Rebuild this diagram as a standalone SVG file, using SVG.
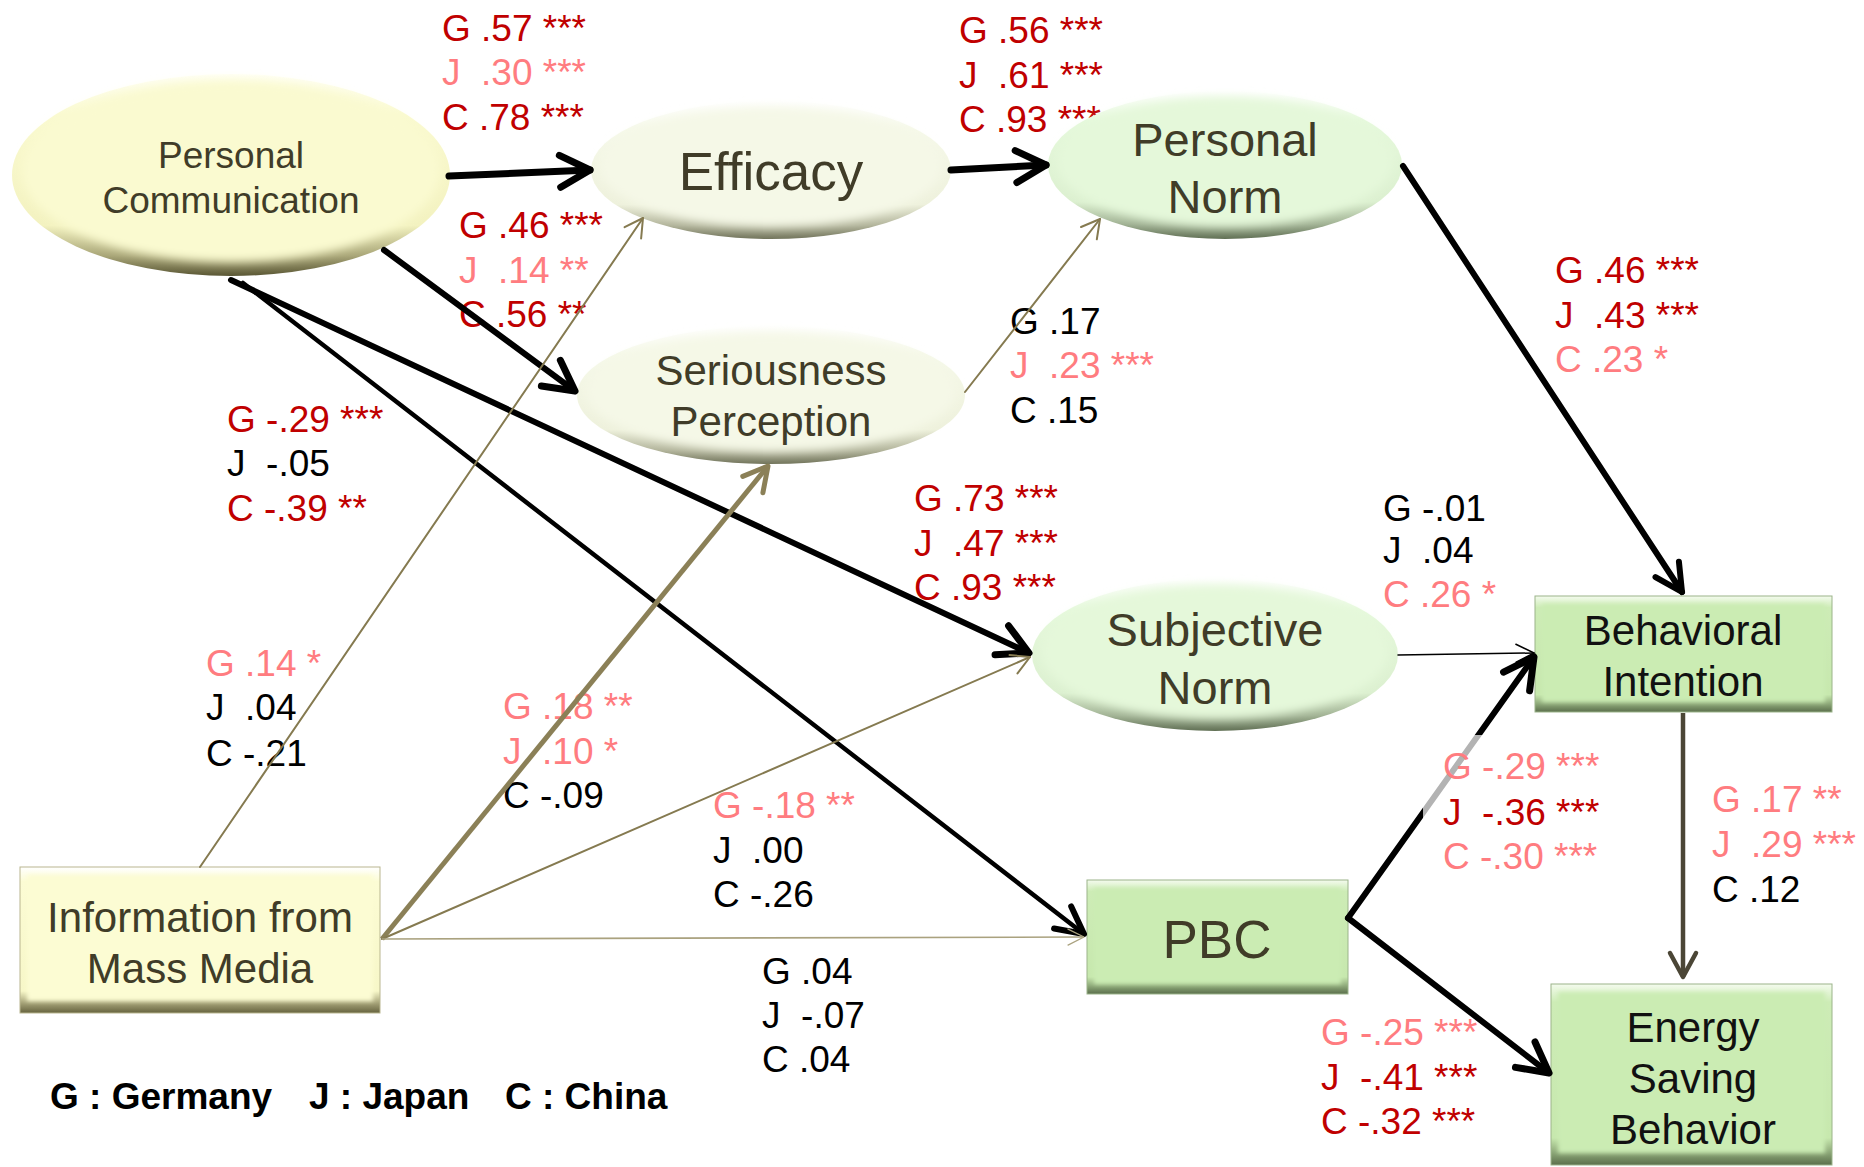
<svg xmlns="http://www.w3.org/2000/svg" width="1864" height="1167" viewBox="0 0 1864 1167">
<style>
.nt{font-family:"Liberation Sans",Arial,sans-serif;fill:#403c28;text-anchor:middle}
.nb{font-family:"Liberation Sans",Arial,sans-serif;fill:#111;text-anchor:middle}
.lb{font-family:"Liberation Sans",Arial,sans-serif;font-size:37px}
.r{fill:#c00000}.p{fill:#ff7c80}.k{fill:#000}
.lg{font-family:"Liberation Sans",Arial,sans-serif;font-size:37px;font-weight:bold;fill:#000}
.ck{fill:none;stroke:#000;stroke-linecap:round;stroke-linejoin:round}
.co{fill:none;stroke:#857a50;stroke-linecap:round;stroke-linejoin:round}
.cok{fill:none;stroke:#8b8057;stroke-linejoin:round}
.cd{fill:none;stroke:#4b4636;stroke-linejoin:round}
.cl{fill:none;stroke:#aaa27f;stroke-linejoin:round}
</style>
<defs>
<linearGradient id="gY" x1="0" y1="0" x2="0" y2="1"><stop offset="0" stop-color="#fffff6"/><stop offset="0.2" stop-color="#fafad0"/><stop offset="0.75" stop-color="#f3f2c0"/><stop offset="0.9" stop-color="#a9a678"/><stop offset="1" stop-color="#5a5735"/></linearGradient>
<linearGradient id="gE" x1="0" y1="0" x2="0" y2="1"><stop offset="0" stop-color="#ffffff"/><stop offset="0.2" stop-color="#f6f9ea"/><stop offset="0.75" stop-color="#eef1dc"/><stop offset="0.9" stop-color="#b3b59c"/><stop offset="1" stop-color="#72755c"/></linearGradient>
<linearGradient id="gG" x1="0" y1="0" x2="0" y2="1"><stop offset="0" stop-color="#ffffff"/><stop offset="0.2" stop-color="#e6f9dc"/><stop offset="0.75" stop-color="#dcf0d0"/><stop offset="0.9" stop-color="#a1b294"/><stop offset="1" stop-color="#617055"/></linearGradient>
<linearGradient id="gR" x1="0" y1="0" x2="0" y2="1"><stop offset="0" stop-color="#f4fbee"/><stop offset="0.1" stop-color="#cdecb6"/><stop offset="0.85" stop-color="#c7e8ae"/><stop offset="0.94" stop-color="#86a072"/><stop offset="1" stop-color="#5b6f4c"/></linearGradient>
<linearGradient id="gRY" x1="0" y1="0" x2="0" y2="1"><stop offset="0" stop-color="#ffffff"/><stop offset="0.1" stop-color="#fcfcd4"/><stop offset="0.85" stop-color="#f7f7c8"/><stop offset="0.94" stop-color="#9d9a70"/><stop offset="1" stop-color="#66633f"/></linearGradient>
<filter id="bl" x="-10%" y="-10%" width="120%" height="120%"><feGaussianBlur stdDeviation="5"/></filter>
<filter id="bs" x="-5%" y="-5%" width="110%" height="110%"><feGaussianBlur stdDeviation="2"/></filter>
<marker id="mK" markerUnits="userSpaceOnUse" viewBox="-40 -25 50 50" markerWidth="50" markerHeight="50" refX="0" refY="0" orient="auto"><path d="M-30,-16 L0,0 L-30,16" class="ck" stroke-width="7"/></marker>
<marker id="mM" markerUnits="userSpaceOnUse" viewBox="-40 -25 50 50" markerWidth="50" markerHeight="50" refX="0" refY="0" orient="auto"><path d="M-27,-14 L0,0 L-27,14" class="ck" stroke-width="6"/></marker>
<marker id="mT" markerUnits="userSpaceOnUse" viewBox="-40 -25 50 50" markerWidth="50" markerHeight="50" refX="0" refY="0" orient="auto"><path d="M-18,-9 L0,0 L-18,9" class="ck" stroke-width="1.5"/></marker>
<marker id="mO" markerUnits="userSpaceOnUse" viewBox="-40 -25 50 50" markerWidth="50" markerHeight="50" refX="0" refY="0" orient="auto"><path d="M-18,-10 L0,0 L-18,10" class="co" stroke-width="2"/></marker>
<marker id="mOK" markerUnits="userSpaceOnUse" viewBox="-40 -25 50 50" markerWidth="50" markerHeight="50" refX="0" refY="0" orient="auto"><path d="M-24,-13 L0,0 L-24,13" class="cok" stroke-linecap="round" stroke-width="5"/></marker>
<marker id="mD" markerUnits="userSpaceOnUse" viewBox="-40 -25 50 50" markerWidth="50" markerHeight="50" refX="0" refY="0" orient="auto"><path d="M-24,-13 L0,0 L-24,13" class="cd" stroke-linecap="round" stroke-width="4.5"/></marker>
<marker id="mL" markerUnits="userSpaceOnUse" viewBox="-40 -25 50 50" markerWidth="50" markerHeight="50" refX="0" refY="0" orient="auto"><path d="M-16,-8 L0,0 L-16,8" class="cl" stroke-linecap="round" stroke-width="1.3"/></marker>
</defs>
<rect width="1864" height="1167" fill="#fff"/>

<g id="labels">
<g id="lbl-pc-eff" class="lb"><text x="442" y="41" class="r">G .57 ***</text><text x="442" y="85" class="p">J&#160;&#160;.30 ***</text><text x="442" y="130" class="r">C .78 ***</text></g>
<g id="lbl-eff-pn" class="lb"><text x="959" y="43" class="r">G .56 ***</text><text x="959" y="88" class="r">J&#160;&#160;.61 ***</text><text x="959" y="132" class="r">C .93 ***</text></g>
<g id="lbl-pc-ser" class="lb"><text x="459" y="238" class="r">G .46 ***</text><text x="459" y="283" class="p">J&#160;&#160;.14 **</text><text x="459" y="327" class="r">C .56 **</text></g>
<g id="lbl-ser-pn" class="lb"><text x="1010" y="334" class="k">G .17</text><text x="1010" y="378" class="p">J&#160;&#160;.23 ***</text><text x="1010" y="423" class="k">C .15</text></g>
<g id="lbl-pn-bi" class="lb"><text x="1555" y="283" class="r">G .46 ***</text><text x="1555" y="328" class="r">J&#160;&#160;.43 ***</text><text x="1555" y="372" class="p">C .23 *</text></g>
<g id="lbl-pc-pbc" class="lb"><text x="227" y="432" class="r">G -.29 ***</text><text x="227" y="476" class="k">J&#160;&#160;-.05</text><text x="227" y="521" class="r">C -.39 **</text></g>
<g id="lbl-pc-sn" class="lb"><text x="914" y="511" class="r">G .73 ***</text><text x="914" y="556" class="r">J&#160;&#160;.47 ***</text><text x="914" y="600" class="r">C .93 ***</text></g>
<g id="lbl-sn-bi" class="lb"><text x="1383" y="521" class="k">G -.01</text><text x="1383" y="563" class="k">J&#160;&#160;.04</text><text x="1383" y="607" class="p">C .26 *</text></g>
<g id="lbl-mm-eff" class="lb"><text x="206" y="676" class="p">G .14 *</text><text x="206" y="720" class="k">J&#160;&#160;.04</text><text x="206" y="766" class="k">C -.21</text></g>
<g id="lbl-mm-ser" class="lb"><text x="503" y="719" class="p">G .18 **</text><text x="503" y="764" class="p">J&#160;&#160;.10 *</text><text x="503" y="808" class="k">C -.09</text></g>
<g id="lbl-mm-sn" class="lb"><text x="713" y="818" class="p">G -.18 **</text><text x="713" y="863" class="k">J&#160;&#160;.00</text><text x="713" y="907" class="k">C -.26</text></g>
<g id="lbl-mm-pbc" class="lb"><text x="762" y="984" class="k">G .04</text><text x="762" y="1028" class="k">J&#160;&#160;-.07</text><text x="762" y="1072" class="k">C .04</text></g>
<g id="lbl-bi-esb" class="lb"><text x="1712" y="812" class="p">G .17 **</text><text x="1712" y="857" class="p">J&#160;&#160;.29 ***</text><text x="1712" y="902" class="k">C .12</text></g>
<g id="lbl-pbc-esb" class="lb"><text x="1321" y="1045" class="p">G -.25 ***</text><text x="1321" y="1090" class="r">J&#160;&#160;-.41 ***</text><text x="1321" y="1134" class="r">C -.32 ***</text></g>
</g>

<g id="personal-communication">
<ellipse cx="231" cy="175" rx="219" ry="101" fill="url(#gY)"/>
<ellipse cx="231" cy="171" rx="209" ry="91" fill="#fafad0" filter="url(#bl)"/>
<text class="nt" x="231" y="168" font-size="37">Personal</text>
<text class="nt" x="231" y="213" font-size="37">Communication</text>
</g>
<g id="efficacy">
<ellipse cx="771" cy="170" rx="180" ry="69" fill="url(#gE)"/>
<ellipse cx="771" cy="167" rx="171" ry="60" fill="#f5f8e7" filter="url(#bl)"/>
<text class="nt" x="771" y="190" font-size="53">Efficacy</text>
</g>
<g id="personal-norm">
<ellipse cx="1225" cy="165" rx="177" ry="74" fill="url(#gG)"/>
<ellipse cx="1225" cy="162" rx="168" ry="65" fill="#e5f8da" filter="url(#bl)"/>
<text class="nt" x="1225" y="156" font-size="47">Personal</text>
<text class="nt" x="1225" y="213" font-size="47">Norm</text>
</g>
<g id="seriousness-perception">
<ellipse cx="771" cy="395" rx="194" ry="69" fill="url(#gE)"/>
<ellipse cx="771" cy="392" rx="185" ry="60" fill="#f5f8e7" filter="url(#bl)"/>
<text class="nt" x="771" y="385" font-size="42">Seriousness</text>
<text class="nt" x="771" y="436" font-size="42">Perception</text>
</g>
<g id="subjective-norm">
<ellipse cx="1215" cy="655" rx="183" ry="76" fill="url(#gG)"/>
<ellipse cx="1215" cy="652" rx="174" ry="67" fill="#e5f8da" filter="url(#bl)"/>
<text class="nt" x="1215" y="646" font-size="47">Subjective</text>
<text class="nt" x="1215" y="704" font-size="47">Norm</text>
</g>
<g id="behavioral-intention">
<rect x="1535" y="596" width="297" height="116" fill="url(#gR)" stroke="#9bb48a" stroke-width="1"/>
<rect x="1542" y="604" width="283" height="98" fill="#cbecb3" filter="url(#bs)"/>
<text class="nb" x="1683" y="645" font-size="42">Behavioral</text>
<text class="nb" x="1683" y="696" font-size="42">Intention</text>
</g>
<g id="pbc">
<rect x="1087" y="880" width="261" height="114" fill="url(#gR)" stroke="#9bb48a" stroke-width="1"/>
<rect x="1094" y="888" width="247" height="96" fill="#cbecb3" filter="url(#bs)"/>
<text class="nt" x="1217" y="958" font-size="53">PBC</text>
</g>
<g id="energy-saving-behavior">
<rect x="1551" y="984" width="281" height="181" fill="url(#gR)" stroke="#9bb48a" stroke-width="1"/>
<rect x="1558" y="992" width="267" height="161" fill="#cbecb3" filter="url(#bs)"/>
<text class="nb" x="1693" y="1042" font-size="42">Energy</text>
<text class="nb" x="1693" y="1093" font-size="42">Saving</text>
<text class="nb" x="1693" y="1144" font-size="42">Behavior</text>
</g>
<g id="information-mass-media">
<rect x="20" y="867" width="360" height="146" fill="url(#gRY)" stroke="#b9b68f" stroke-width="1"/>
<rect x="27" y="875" width="346" height="126" fill="#fcfcd3" filter="url(#bs)"/>
<text class="nt" x="200" y="932" font-size="42">Information from</text>
<text class="nt" x="200" y="983" font-size="42">Mass Media</text>
</g>

<g id="connectors">
<line x1="449" y1="176" x2="590" y2="170" class="ck" stroke-width="7" stroke-linecap="butt" marker-end="url(#mK)"/>
<line x1="951" y1="170" x2="1046" y2="165" class="ck" stroke-width="7" stroke-linecap="butt" marker-end="url(#mK)"/>
<line x1="384" y1="250" x2="575" y2="391" class="ck" stroke-width="6" stroke-linecap="butt" marker-end="url(#mK)"/>
<line x1="231" y1="280" x2="1029" y2="653" class="ck" stroke-width="6" stroke-linecap="butt" marker-end="url(#mK)"/>
<line x1="243" y1="283" x2="1084" y2="934" class="ck" stroke-width="4.5" stroke-linecap="butt" marker-end="url(#mM)"/>
<line x1="1403" y1="166" x2="1682" y2="592" class="ck" stroke-width="6" stroke-linecap="butt" marker-end="url(#mM)"/>
<line x1="1398" y1="655" x2="1534" y2="653" class="ck" stroke-width="1.5" marker-end="url(#mT)"/>
<line x1="1348" y1="918" x2="1534" y2="657" class="ck" stroke-width="6" stroke-linecap="butt" marker-end="url(#mK)"/>
<line x1="1348" y1="918" x2="1549" y2="1073" class="ck" stroke-width="6" stroke-linecap="butt" marker-end="url(#mK)"/>
<line x1="1683" y1="713" x2="1683" y2="977" class="cd" stroke-width="4.5" marker-end="url(#mD)"/>
<line x1="200" y1="867" x2="643" y2="218" class="co" stroke-width="2" marker-end="url(#mO)"/>
<line x1="382" y1="939" x2="768" y2="466" class="cok" stroke-width="5" marker-end="url(#mOK)"/>
<line x1="382" y1="939" x2="1030" y2="657" class="co" stroke-width="2" marker-end="url(#mO)"/>
<line x1="382" y1="939" x2="1084" y2="937" class="cl" stroke-width="1.6" marker-end="url(#mL)"/>
<line x1="965" y1="392" x2="1100" y2="219" class="co" stroke-width="2" marker-end="url(#mO)"/>
</g>
<rect x="1423" y="735" width="62" height="90" fill="#fff" opacity="0.7"/>
<g id="lbl-pbc-bi" class="lb"><text x="1443" y="779" class="p">G -.29 ***</text><text x="1443" y="825" class="r">J&#160;&#160;-.36 ***</text><text x="1443" y="869" class="p">C -.30 ***</text></g>

<g id="legend">
<text class="lg" x="50" y="1109">G : Germany</text>
<text class="lg" x="309" y="1109">J : Japan</text>
<text class="lg" x="505" y="1109">C : China</text>
</g>
</svg>
